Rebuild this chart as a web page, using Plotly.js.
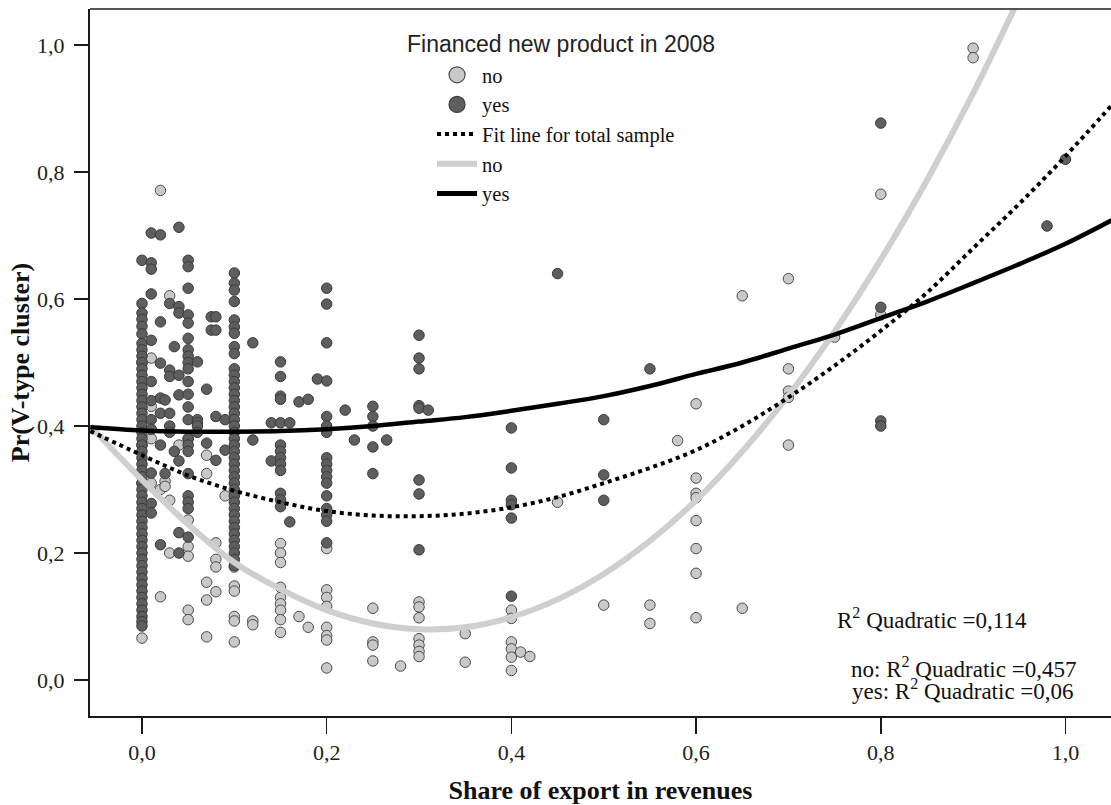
<!DOCTYPE html>
<html>
<head>
<meta charset="utf-8">
<script src="https://cdn.plot.ly/plotly-3.0.1.min.js"></script>
<style>html,body{margin:0;padding:0;background:#fff;}#chart{width:1111px;height:805px;}</style>
</head>
<body>
<div id="chart"></div>
<script>
// ---- Data (x = share of export, y = Pr(V-type cluster)) ----
// "no" group (did not finance new product in 2008): [x, [y values]]
const noColumns = [
  [0.00, [0.500, 0.370, 0.310, 0.066]],
  [0.01, [0.507, 0.431, 0.380, 0.310]],
  [0.02, [0.771, 0.300, 0.131]],
  [0.025, [0.313, 0.305]],
  [0.03, [0.605, 0.283, 0.200]],
  [0.04, [0.370]],
  [0.05, [0.380, 0.252, 0.210, 0.195, 0.110, 0.095]],
  [0.07, [0.354, 0.325, 0.154, 0.126, 0.068]],
  [0.08, [0.216, 0.190, 0.178, 0.139]],
  [0.09, [0.290]],
  [0.10, [0.178, 0.148, 0.140, 0.100, 0.093, 0.060]],
  [0.12, [0.093, 0.087]],
  [0.15, [0.215, 0.200, 0.185, 0.146, 0.130, 0.120, 0.110, 0.095, 0.075]],
  [0.17, [0.100]],
  [0.18, [0.083]],
  [0.20, [0.207, 0.142, 0.130, 0.116, 0.083, 0.070, 0.063, 0.019]],
  [0.25, [0.113, 0.060, 0.055, 0.030]],
  [0.28, [0.022]],
  [0.30, [0.123, 0.115, 0.098, 0.065, 0.055, 0.045, 0.037]],
  [0.35, [0.073, 0.028]],
  [0.40, [0.110, 0.097, 0.060, 0.049, 0.036, 0.015]],
  [0.41, [0.044]],
  [0.42, [0.037]],
  [0.45, [0.280]],
  [0.50, [0.118]],
  [0.55, [0.118, 0.089]],
  [0.58, [0.377]],
  [0.60, [0.435, 0.318, 0.294, 0.287, 0.251, 0.207, 0.168, 0.098]],
  [0.65, [0.605, 0.113]],
  [0.70, [0.632, 0.490, 0.455, 0.445, 0.370]],
  [0.75, [0.540]],
  [0.80, [0.765, 0.575]],
  [0.90, [0.995, 0.980]]
];

// "yes" group (financed new product in 2008): [x, [y values]]
const yesColumns = [
  [0.00, [0.661, 0.593, 0.578, 0.568, 0.557, 0.545, 0.530, 0.520, 0.510, 0.500, 0.490, 0.480, 0.470, 0.460,
          0.450, 0.440, 0.430, 0.420, 0.410, 0.400, 0.390, 0.380, 0.370, 0.360, 0.350, 0.340, 0.330, 0.320,
          0.310, 0.300, 0.290, 0.280, 0.270, 0.260, 0.250, 0.240, 0.230, 0.220, 0.210, 0.200, 0.190, 0.180,
          0.170, 0.160, 0.150, 0.140, 0.130, 0.120, 0.110, 0.100, 0.092, 0.085]],
  [0.01, [0.704, 0.657, 0.647, 0.608, 0.535, 0.470, 0.440, 0.410, 0.395, 0.326, 0.278, 0.263]],
  [0.02, [0.701, 0.564, 0.499, 0.444, 0.420, 0.370, 0.213]],
  [0.025, [0.441, 0.325]],
  [0.03, [0.593, 0.488, 0.478, 0.420, 0.400, 0.390]],
  [0.035, [0.525, 0.360]],
  [0.04, [0.713, 0.588, 0.578, 0.480, 0.449, 0.345, 0.232, 0.200]],
  [0.05, [0.661, 0.651, 0.617, 0.575, 0.562, 0.538, 0.520, 0.510, 0.500, 0.490, 0.470, 0.450, 0.430, 0.410,
          0.380, 0.370, 0.360, 0.325, 0.290, 0.280, 0.270, 0.225]],
  [0.06, [0.501, 0.410, 0.405, 0.400, 0.390]],
  [0.07, [0.458, 0.373]],
  [0.075, [0.572, 0.551]],
  [0.08, [0.572, 0.551, 0.415, 0.346]],
  [0.09, [0.410, 0.362]],
  [0.10, [0.641, 0.625, 0.614, 0.596, 0.567, 0.556, 0.546, 0.525, 0.514, 0.490, 0.480, 0.470, 0.460, 0.450,
          0.440, 0.430, 0.420, 0.410, 0.400, 0.390, 0.380, 0.370, 0.360, 0.350, 0.340, 0.330, 0.320, 0.310,
          0.300, 0.290, 0.280, 0.270, 0.260, 0.250, 0.240, 0.230, 0.220, 0.210, 0.200, 0.190, 0.180]],
  [0.12, [0.531, 0.378]],
  [0.14, [0.405, 0.345]],
  [0.15, [0.501, 0.478, 0.447, 0.442, 0.405, 0.370, 0.360, 0.350, 0.340, 0.330, 0.294, 0.284, 0.273]],
  [0.16, [0.405, 0.249]],
  [0.17, [0.438]],
  [0.18, [0.442]],
  [0.19, [0.474]],
  [0.20, [0.617, 0.592, 0.531, 0.471, 0.415, 0.400, 0.390, 0.350, 0.340, 0.330, 0.320, 0.310, 0.290, 0.270,
          0.260, 0.250, 0.216]],
  [0.22, [0.425]],
  [0.23, [0.378]],
  [0.25, [0.431, 0.415, 0.400, 0.367, 0.325]],
  [0.265, [0.378]],
  [0.30, [0.543, 0.507, 0.490, 0.432, 0.428, 0.315, 0.293, 0.205]],
  [0.31, [0.425]],
  [0.40, [0.397, 0.334, 0.283, 0.276, 0.255, 0.132]],
  [0.45, [0.640]],
  [0.50, [0.410, 0.323, 0.283]],
  [0.55, [0.490]],
  [0.80, [0.877, 0.587, 0.408, 0.400]],
  [0.98, [0.715]],
  [1.00, [0.820]]
];

// Fit lines
const fitX      = [-0.056, 0.00, 0.05, 0.10, 0.15, 0.20, 0.25, 0.30, 0.35, 0.40, 0.45, 0.50, 0.55, 0.60, 0.65, 0.70, 0.75, 0.80, 0.85, 0.90, 0.95, 1.00, 1.05];
const fitTotal  = [0.392, 0.354, 0.322, 0.298, 0.280, 0.266, 0.259, 0.258, 0.262, 0.272, 0.288, 0.310, 0.334, 0.362, 0.400, 0.445, 0.495, 0.550, 0.610, 0.680, 0.750, 0.825, 0.905];
const fitNo     = [0.400, 0.315, 0.245, 0.185, 0.143, 0.110, 0.089, 0.080, 0.083, 0.099, 0.127, 0.167, 0.219, 0.283, 0.360, 0.448, 0.549, 0.662, 0.787, 0.924, 1.074, 1.230, 1.400];
const fitYes    = [0.398, 0.393, 0.391, 0.391, 0.392, 0.395, 0.400, 0.407, 0.414, 0.424, 0.435, 0.447, 0.463, 0.482, 0.500, 0.522, 0.544, 0.570, 0.596, 0.625, 0.655, 0.687, 0.724];

const groupNames   = ['no', 'yes'];
const legendTitle  = 'Financed new product in 2008';
const totalFitName = 'Fit line for total sample';
const r2Total = 'R<sup>2</sup> Quadratic =0,114';
const r2No    = 'no: R<sup>2</sup> Quadratic =0,457';
const r2Yes   = 'yes: R<sup>2</sup> Quadratic =0,06';
const xTitle  = 'Share of export in revenues';
const yTitle  = 'Pr(V-type cluster)';
const tickVals = [0, 0.2, 0.4, 0.6, 0.8, 1.0];

// ---- build ----
function flatten(cols) {
  const xs = [], ys = [];
  cols.forEach(([x, list]) => list.forEach(y => { xs.push(x); ys.push(y); }));
  return {xs, ys};
}
const noPts = flatten(noColumns);
const yesPts = flatten(yesColumns);

const serif = 'Liberation Serif, Times New Roman, serif';
const sans  = 'Liberation Sans, Arial, sans-serif';

const noFill = '#c9c9c9', noEdge = '#4a4a4a';
const yesFill = '#5e5e5e', yesEdge = '#3a3a3a';

const traces = [
  {type: 'scatter', mode: 'markers', x: noPts.xs, y: noPts.ys, showlegend: false, name: groupNames[0],
   marker: {size: 10.5, color: noFill, line: {color: noEdge, width: 1}}},
  {type: 'scatter', mode: 'markers', x: yesPts.xs, y: yesPts.ys, showlegend: false, name: groupNames[1],
   marker: {size: 10.5, color: yesFill, line: {color: yesEdge, width: 1}}},
  {type: 'scatter', mode: 'lines', x: fitX, y: fitNo, showlegend: false, name: groupNames[0],
   line: {color: '#cfcfcf', width: 6, shape: 'spline'}},
  {type: 'scatter', mode: 'lines', x: fitX, y: fitYes, showlegend: false, name: groupNames[1],
   line: {color: '#000000', width: 4.5, shape: 'spline'}},
  {type: 'scatter', mode: 'lines', x: fitX, y: fitTotal, showlegend: false, name: totalFitName,
   line: {color: '#000000', width: 4, dash: 'dot', shape: 'spline'}},
  // legend entries
  {type: 'scatter', mode: 'markers', x: [null], y: [null], name: groupNames[0],
   marker: {size: 16, color: noFill, line: {color: noEdge, width: 1.2}}},
  {type: 'scatter', mode: 'markers', x: [null], y: [null], name: groupNames[1],
   marker: {size: 16, color: yesFill, line: {color: yesEdge, width: 1.2}}},
  {type: 'scatter', mode: 'lines', x: [null], y: [null], name: totalFitName,
   line: {color: '#000000', width: 4, dash: 'dot'}},
  {type: 'scatter', mode: 'lines', x: [null], y: [null], name: groupNames[0],
   line: {color: '#cfcfcf', width: 6}},
  {type: 'scatter', mode: 'lines', x: [null], y: [null], name: groupNames[1],
   line: {color: '#000000', width: 5}}
];

const layout = {
  width: 1111, height: 805,
  margin: {l: 90, r: 0, t: 9, b: 89, pad: 0},
  paper_bgcolor: '#ffffff', plot_bgcolor: '#ffffff',
  separators: ',.',
  font: {family: serif, size: 22, color: '#1a1a1a'},
  xaxis: {
    range: [-0.0563, 1.0493], tickvals: tickVals, tickformat: '.1f',
    showgrid: false, zeroline: false,
    showline: true, linecolor: '#1a1a1a', linewidth: 2,
    ticks: 'outside', ticklen: 16, tickwidth: 1.5, tickcolor: '#1a1a1a',
    tickfont: {family: serif, size: 22, color: '#222'},
    title: {text: xTitle, font: {family: serif, size: 26, color: '#111', weight: 'bold'}, standoff: 16}
  },
  yaxis: {
    range: [-0.0567, 1.0567], tickvals: tickVals, tickformat: '.1f',
    showgrid: false, zeroline: false,
    showline: true, linecolor: '#1a1a1a', linewidth: 2,
    ticks: 'outside', ticklen: 14, tickwidth: 1.5, tickcolor: '#1a1a1a',
    ticklabelstandoff: 5,
    tickfont: {family: serif, size: 22, color: '#222'},
    title: {text: yTitle, font: {family: serif, size: 26, color: '#111', weight: 'bold'}, standoff: 0}
  },
  showlegend: true,
  legend: {
    x: 0.335, y: 0.935, xanchor: 'left', yanchor: 'top',
    bgcolor: 'rgba(0,0,0,0)', borderwidth: 0,
    font: {family: serif, size: 20.5, color: '#111'},
    traceorder: 'normal', itemwidth: 40
  },
  shapes: [
    {type: 'line', xref: 'paper', yref: 'paper', x0: 0, x1: 1, y0: 1, y1: 1,
     line: {color: '#555', width: 2}}
  ],
  annotations: [
    {xref: 'paper', yref: 'paper', x: 0.4614, y: 0.9505, xanchor: 'center', yanchor: 'middle',
     text: legendTitle, showarrow: false, font: {family: sans, size: 23, color: '#222'}},
    {xref: 'paper', yref: 'paper', x: 0.7297, y: 0.1386, xanchor: 'left', yanchor: 'middle',
     text: r2Total, showarrow: false, font: {family: serif, size: 23, color: '#111'}},
    {xref: 'paper', yref: 'paper', x: 0.8555, y: 0.0693, xanchor: 'center', yanchor: 'middle',
     text: r2No, showarrow: false, font: {family: serif, size: 23, color: '#111'}},
    {xref: 'paper', yref: 'paper', x: 0.8555, y: 0.0368, xanchor: 'center', yanchor: 'middle',
     text: r2Yes, showarrow: false, font: {family: serif, size: 23, color: '#111'}}
  ]
};

Plotly.newPlot('chart', traces, layout, {displayModeBar: false, staticPlot: true});
</script>
</body>
</html>
